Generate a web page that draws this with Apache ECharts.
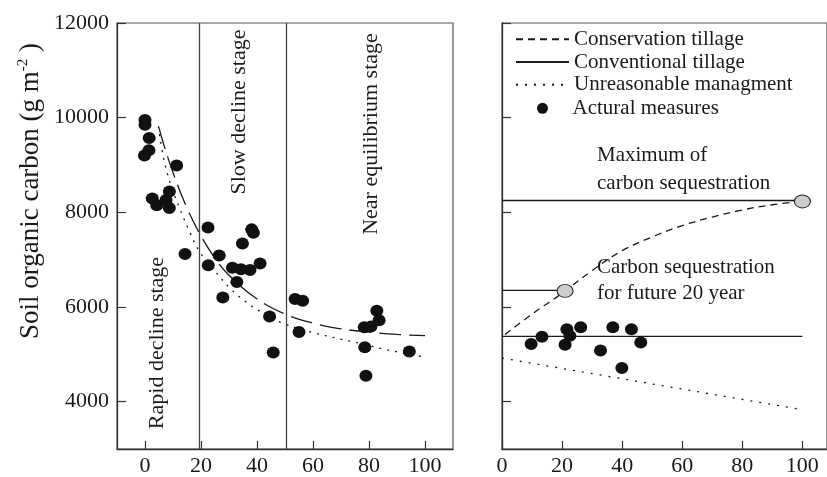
<!DOCTYPE html>
<html><head><meta charset="utf-8">
<script src="https://cdn.jsdelivr.net/npm/echarts@6/dist/echarts.min.js"></script>
<style>html,body{margin:0;padding:0;background:#fff}#c{width:827px;height:477px}</style>
</head><body><div id="c"></div>
<script>
// ---- data ----
const xTickValues = [0, 20, 40, 60, 80, 100];
const yTickValues = [4000, 6000, 8000, 10000, 12000];
const stageBounds = [19.2, 50.3];

const leftMeasures = [[0,9950],[0,9850],[1.5,9570],[1.4,9310],[-0.2,9200],[11.3,8990],[2.6,8290],[4.2,8150],[7.5,8260],[8.7,8440],[8.7,8090],[14.3,7120],[22.5,7680],[22.6,6880],[26.5,7090],[38.1,7640],[38.7,7570],[34.8,7340],[31.2,6830],[34.3,6800],[37.5,6780],[41.1,6920],[32.8,6530],[27.8,6200],[44.5,5800],[45.8,5040],[53.6,6170],[56.3,6130],[55,5470],[82.8,5920],[83.6,5720],[78.3,5570],[80.7,5590],[78.5,5150],[78.9,4550],[94.4,5060]];
const leftDashedCurve = [[5,9790],[6.5,9470],[10,8840],[15,8090],[20,7500],[25,7030],[30,6670],[40,6170],[50,5850],[60,5660],[70,5540],[80,5470],[90,5420],[100,5395]];
const leftDottedCurve = [[4.8,9820],[6.5,9190],[9,8620],[12,8140],[16,7580],[19.6,7160],[25,6760],[30,6420],[36,6110],[43,5840],[50,5640],[60,5460],[70,5320],[77,5230],[84.5,5120],[92,5030],[100,4940]];

const conservationCurve = [[1,5420],[10,5850],[20,6290],[30,6770],[40,7190],[50,7480],[60,7720],[70,7900],[80,8050],[90,8160],[100,8235]];
const conventionalLine = [[0,5380],[100,5380]];
const unreasonableLine = [[0,4920],[100,3830]];
const rightMeasures = [[9.7,5220],[13.3,5370],[21.6,5530],[22.6,5390],[21.0,5200],[26.2,5570],[32.8,5080],[36.9,5570],[39.9,4710],[43.1,5530],[46.2,5250]];
const maximumLine = [[0,8250],[100,8250]];
const future20Line = [[0,6350],[21,6350]];
const sequestrationPoints = [[21,6340],[100,8230]];

// ---- chart ----
const FF = "'Liberation Serif','Times New Roman',serif";
const INK = '#1a1a1a';
const chart = echarts.init(document.getElementById('c'), null, {renderer: 'canvas'});
const plain = v => String(v);

function xAxisCfg(gi, min, max) {
  return {
    type: 'value', gridIndex: gi, min: min, max: max,
    axisLine: {show: true, onZero: false, lineStyle: {color: '#333', width: 1.3}},
    axisTick: {show: true, inside: true, length: 8, customValues: xTickValues, lineStyle: {color: '#333', width: 1.2}},
    axisLabel: {show: true, customValues: xTickValues, formatter: plain, fontFamily: FF, fontSize: 22, color: INK, margin: 6},
    splitLine: {show: false}
  };
}
function yAxisCfg(gi, showLabel) {
  return {
    type: 'value', gridIndex: gi, min: 3000, max: 12000,
    axisLine: {show: true, onZero: false, lineStyle: {color: '#333', width: 1.3}},
    axisTick: {show: true, inside: true, length: 9, customValues: yTickValues, lineStyle: {color: '#333', width: 1.2}},
    axisLabel: {show: showLabel, customValues: yTickValues, formatter: plain, fontFamily: FF, fontSize: 22, color: INK, margin: 8},
    splitLine: {show: false}
  };
}
function lineSeries(name, data, xi, type, smooth) {
  return {
    name: name, type: 'line', xAxisIndex: xi, yAxisIndex: xi, data: data,
    symbol: 'none', smooth: smooth || false, silent: true, z: 3,
    lineStyle: {color: INK, width: 1.3, type: type},
    itemStyle: {color: INK}
  };
}
function textEl(str, x, y, size, rot, align) {
  return {type: 'text', x: x, y: y, rotation: rot || 0, silent: true,
    style: {text: str, font: size + "px 'Liberation Serif'", fill: INK,
      align: align || 'center', verticalAlign: 'middle', textAlign: align || 'center', textVerticalAlign: 'middle'}};
}

const option = {
  animation: false,
  backgroundColor: '#fff',
  grid: [
    {left: 117, top: 23, width: 336, height: 429, show: true, borderColor: '#555', borderWidth: 1.2, backgroundColor: 'transparent'},
    {left: 502, top: 23, width: 330, height: 429, show: true, borderColor: '#555', borderWidth: 1.2, backgroundColor: 'transparent'}
  ],
  xAxis: [xAxisCfg(0, -10, 110), xAxisCfg(1, 0, 108.2)],
  yAxis: [yAxisCfg(0, true), yAxisCfg(1, false)],
  legend: [
    {
      data: ['Conservation tillage', 'Conventional tillage', 'Unreasonable managment'],
      orient: 'vertical', left: 515, top: 28, padding: 0, itemWidth: 53, itemHeight: 10, itemGap: 0,
      selectedMode: false,
      itemStyle: {color: 'rgba(0,0,0,0)', borderColor: 'rgba(0,0,0,0)', borderWidth: 0},
      textStyle: {fontFamily: FF, fontSize: 21, color: INK, lineHeight: 22.7}
    },
    {
      data: ['Actural measures'],
      orient: 'vertical', left: 537, top: 97, padding: 0, itemWidth: 12, itemHeight: 11, itemGap: 0,
      selectedMode: false,
      textStyle: {fontFamily: FF, fontSize: 21, color: INK, lineHeight: 22.7, padding: [0, 0, 0, 19]}
    }
  ],
  series: [
    {
      name: 'Actural measures', type: 'scatter', xAxisIndex: 0, yAxisIndex: 0, data: leftMeasures,
      symbol: 'circle', symbolSize: [13, 12], itemStyle: {color: '#111', opacity: 1}, z: 4, silent: true
    },
    Object.assign(lineSeries('Fitted conservation (history)', leftDashedCurve, 0, [22, 8], 0.4), {
      markLine: {
        silent: true, symbol: ['none', 'none'], label: {show: false},
        lineStyle: {color: '#444', type: 'solid', width: 1.3},
        data: stageBounds.map(v => ({xAxis: v}))
      }
    }),
    lineSeries('Fitted unreasonable (history)', leftDottedCurve, 0, [2, 6], 0.4),

    lineSeries('Conservation tillage', conservationCurve, 1, [7, 5], 0.4),
    lineSeries('Conventional tillage', conventionalLine, 1, 'solid'),
    lineSeries('Unreasonable managment', unreasonableLine, 1, [2, 7]),
    {
      name: 'Actural measures', type: 'scatter', xAxisIndex: 1, yAxisIndex: 1, data: rightMeasures,
      symbol: 'circle', symbolSize: [13, 12], itemStyle: {color: '#111', opacity: 1}, z: 4, silent: true
    },
    lineSeries('Maximum line', maximumLine, 1, 'solid'),
    lineSeries('Future 20 year line', future20Line, 1, 'solid'),
    {
      name: 'Sequestration points', type: 'scatter', xAxisIndex: 1, yAxisIndex: 1, data: sequestrationPoints,
      symbol: 'circle', symbolSize: [16, 13], z: 5, silent: true,
      itemStyle: {color: '#cdcdcd', borderColor: '#222', borderWidth: 1, opacity: 1}
    }
  ],
  graphic: [
    {type: 'text', x: 31, y: 191, rotation: Math.PI / 2, silent: true,
      style: {text: '{a|Soil organic carbon (g m}{s|-2}{a| )}', align: 'center', verticalAlign: 'middle',
        textAlign: 'center', textVerticalAlign: 'middle',
        rich: {a: {fontFamily: FF, fontSize: 27, fill: INK, color: INK, lineHeight: 30},
               s: {fontFamily: FF, fontSize: 15, fill: INK, color: INK, verticalAlign: 'top', lineHeight: 30}}}},
    textEl('Rapid decline stage', 157, 343, 22, Math.PI / 2),
    textEl('Slow decline stage', 239, 112, 22, Math.PI / 2),
    textEl('Near equilibrium stage', 371, 134, 22, Math.PI / 2),
    textEl('Maximum of', 597, 155, 21, 0, 'left'),
    textEl('carbon sequestration', 597, 183, 21, 0, 'left'),
    textEl('Carbon sequestration', 597, 267, 21, 0, 'left'),
    textEl('for future 20 year', 597, 293, 21, 0, 'left')
  ]
};
chart.setOption(option);
</script>
</body></html>
